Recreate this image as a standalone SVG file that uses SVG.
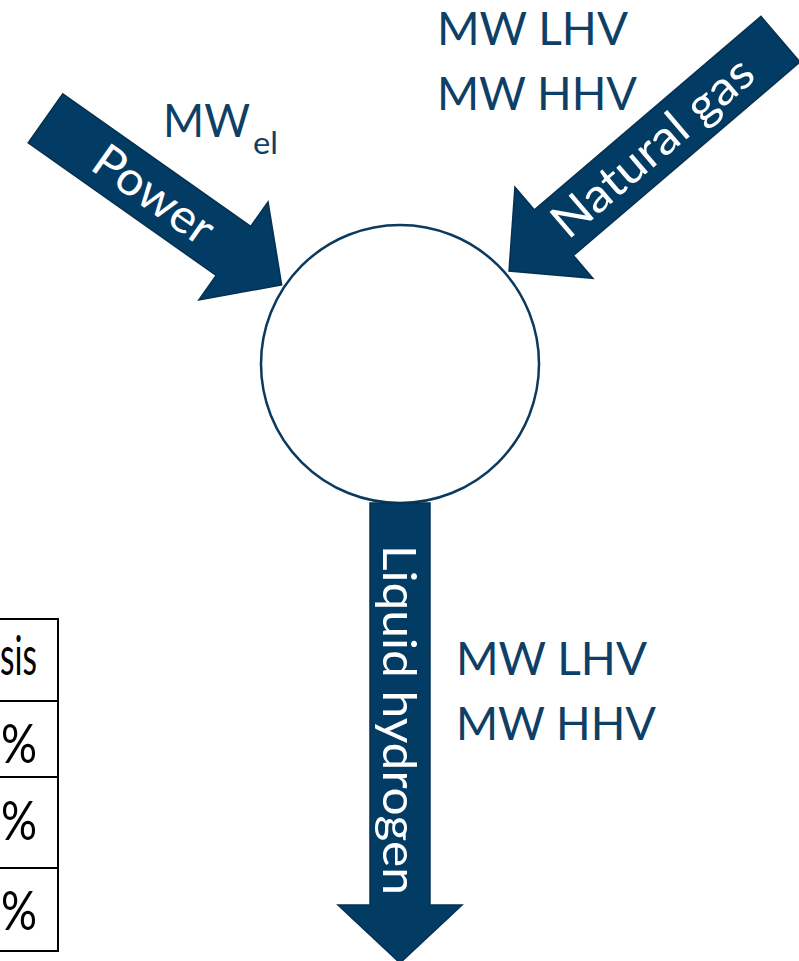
<svg xmlns="http://www.w3.org/2000/svg" width="799" height="961" viewBox="0 0 799 961">
  <style>
    .flow { fill: #023C65; stroke: #06304F; stroke-width: 1.5; stroke-linejoin: miter; }
    .flow-label { font-family: Lato, "Open Sans", sans-serif; font-size: 47px; fill: #ffffff; text-anchor: middle; }
    .qty { font-family: Lato, "Open Sans", sans-serif; font-size: 47px; fill: #0E3F66; }
    .sub { font-size: 31px; }
    .cell { font-family: Lato, "Open Sans", sans-serif; font-size: 54px; fill: #000000; }
    .grid { stroke: #000000; stroke-width: 2; fill: none; }
  </style>

  <!-- central process node -->
  <g id="process">
    <circle cx="400" cy="364" r="139" fill="#ffffff" stroke="#0B3A5E" stroke-width="2.5"/>
  </g>

  <!-- block arrows for the energy flows -->
  <g id="connectors">
    <g id="power-in">
      <path class="flow" transform="translate(45.5,118.3) rotate(35.2)" d="M0,-30 H230 V-60 L289,0 L230,60 V30 H0 Z"/>
      <text class="flow-label" transform="translate(153.8,194.8) rotate(35.2)" x="0" y="16" textLength="137" lengthAdjust="spacingAndGlyphs">Power</text>
    </g>
    <g id="gas-in">
      <path class="flow" transform="translate(780.5,39.2) rotate(139.5)" d="M0,-30 H298 V-60 L357,0 L298,60 V30 H0 Z"/>
      <text class="flow-label" transform="translate(653.2,147.9) rotate(-40.5)" x="0" y="15" textLength="250" lengthAdjust="spacingAndGlyphs">Natural gas</text>
    </g>
    <g id="lh2-out">
      <path class="flow" d="M370,503 H430 V905 H462 L400,963 L338,905 H370 Z"/>
      <text class="flow-label" transform="translate(400,720) rotate(90)" x="0" y="17" textLength="350" lengthAdjust="spacingAndGlyphs">Liquid hydrogen</text>
    </g>
  </g>

  <!-- flow quantities -->
  <g id="units">
    <text class="qty" x="163" y="137"><tspan textLength="87" lengthAdjust="spacingAndGlyphs">MW</tspan><tspan class="sub" x="253" y="154" textLength="25" lengthAdjust="spacingAndGlyphs">el</tspan></text>
    <text class="qty" x="437" y="45" textLength="191" lengthAdjust="spacingAndGlyphs">MW LHV</text>
    <text class="qty" x="437" y="110" textLength="200" lengthAdjust="spacingAndGlyphs">MW HHV</text>
    <text class="qty" x="456" y="675" textLength="191" lengthAdjust="spacingAndGlyphs">MW LHV</text>
    <text class="qty" x="456" y="740" textLength="200" lengthAdjust="spacingAndGlyphs">MW HHV</text>
  </g>

  <!-- efficiency table edge -->
  <g id="table">
    <path class="grid" d="M58,618 V952 M0,619 H59 M0,701 H59 M0,777 H59 M0,868 H59 M0,951 H59"/>
    <text class="cell" x="0" y="675" font-size="56" textLength="37" lengthAdjust="spacingAndGlyphs">sis</text>
    <text class="cell" x="1" y="763" textLength="36" lengthAdjust="spacingAndGlyphs">%</text>
    <text class="cell" x="1" y="840" textLength="36" lengthAdjust="spacingAndGlyphs">%</text>
    <text class="cell" x="1" y="930" textLength="36" lengthAdjust="spacingAndGlyphs">%</text>
  </g>
</svg>
